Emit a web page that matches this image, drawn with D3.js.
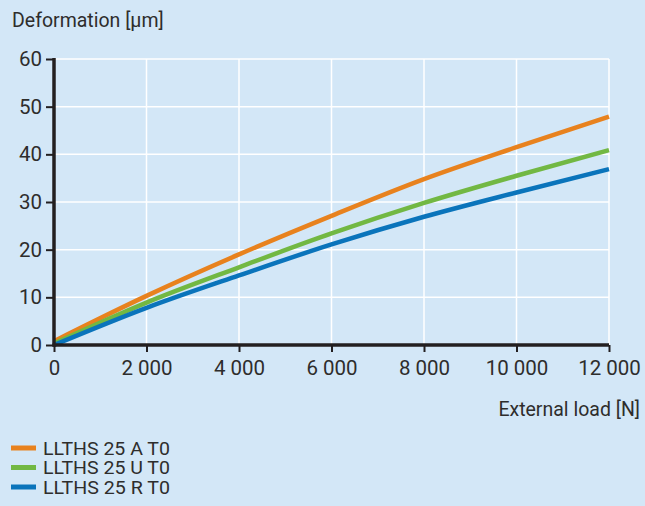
<!DOCTYPE html>
<html><head><meta charset="utf-8">
<script src="https://cdn.jsdelivr.net/npm/d3@7"></script>
<style>
html,body{margin:0;padding:0;background:#d3e7f7;}
svg{display:block;}
text{font-family:"Liberation Sans Narrow","Roboto","DejaVu Sans Condensed",sans-serif;fill:#2e2d2c;}
</style></head>
<body>
<svg id="c" width="645" height="506"></svg>
<script>
const loads = [0, 2000, 4000, 6000, 8000, 10000, 12000];
const seriesNames = ["LLTHS 25 A T0", "LLTHS 25 U T0", "LLTHS 25 R T0"];
const seriesA = [0.8, 10.3, 19.0, 27.1, 34.8, 41.5, 47.9];
const seriesU = [0.3, 8.9, 16.3, 23.4, 29.8, 35.5, 40.9];
const seriesR = [0.0, 7.8, 14.6, 21.1, 26.9, 32.0, 36.9];
const colors = ["#e8821e", "#72b843", "#0a74bb"];
const xTicks = [0, 2000, 4000, 6000, 8000, 10000, 12000];
const yTicks = [0, 10, 20, 30, 40, 50, 60];

const svg = d3.select("#c");
const W = 645, H = 506;
svg.append("rect").attr("width", W).attr("height", H).attr("fill", "#d3e7f7");

const x = d3.scaleLinear().domain([0, 12000]).range([54, 609]);
const y = d3.scaleLinear().domain([0, 60]).range([345, 59]);
const fmt = d3.formatLocale({decimal: ".", thousands: " ", grouping: [3], currency: ["", ""]}).format(",d");

// grid
const g = svg.append("g");
g.selectAll(".vg").data(xTicks.filter(d => d > 0)).join("line")
  .attr("x1", d => x(d)).attr("x2", d => x(d)).attr("y1", y(60)).attr("y2", y(0))
  .attr("stroke", "#fff").attr("stroke-width", 1.5);
g.selectAll(".hg").data(yTicks.filter(d => d > 0)).join("line")
  .attr("x1", x(0)).attr("x2", x(12000)).attr("y1", d => y(d)).attr("y2", d => y(d))
  .attr("stroke", "#fff").attr("stroke-width", 1.5);

// lines
const line = d3.line().x((d, i) => x(loads[i])).y(d => y(d)).curve(d3.curveMonotoneX);
[seriesA, seriesU, seriesR].forEach((s, i) => {
  svg.append("path").datum(s).attr("d", line).attr("fill", "none")
    .attr("stroke", colors[i]).attr("stroke-width", 4.5).attr("stroke-linecap", "butt");
});

// axes
const axisColor = "#231f20";
const yAxis = svg.append("g").attr("transform", `translate(${x(0)},0)`)
  .call(d3.axisLeft(y).tickValues(yTicks).tickSize(8).tickPadding(4).tickFormat(d3.format("d")));
const xAxis = svg.append("g").attr("transform", `translate(0,${y(0)})`)
  .call(d3.axisBottom(x).tickValues(xTicks).tickSize(7).tickPadding(8).tickFormat(fmt));
[yAxis, xAxis].forEach(a => {
  a.select(".domain").remove();
  a.selectAll(".tick line").attr("stroke", axisColor).attr("stroke-width", 2);
  a.selectAll(".tick text").attr("fill", "#2e2d2c").style("font-size", "20.5px")
    .style("font-family", '"Liberation Sans Narrow","Roboto",sans-serif');
});
svg.append("line").attr("x1", x(0)).attr("x2", x(0)).attr("y1", y(60) - 1).attr("y2", y(0) + 1.5)
  .attr("stroke", axisColor).attr("stroke-width", 3.5);
svg.append("line").attr("x1", x(0) - 1.5).attr("x2", x(12000)).attr("y1", y(0)).attr("y2", y(0))
  .attr("stroke", axisColor).attr("stroke-width", 3.5);

// titles
svg.append("text").attr("x", 12).attr("y", 27).style("font-size", "19.5px").text("Deformation [µm]");
svg.append("text").attr("x", 640).attr("y", 416).attr("text-anchor", "end").style("font-size", "19.5px").text("External load [N]");

// legend
const lg = svg.append("g");
seriesNames.forEach((n, i) => {
  const cy = 448 + i * 19.5;
  lg.append("line").attr("x1", 11).attr("x2", 36).attr("y1", cy).attr("y2", cy)
    .attr("stroke", colors[i]).attr("stroke-width", 5);
  lg.append("text").attr("x", 43).attr("y", cy + 7).style("font-size", "16.5px")
    .attr("textLength", 127).attr("lengthAdjust", "spacingAndGlyphs")
    .attr("transform", `translate(0,${cy + 7}) scale(1,1.15) translate(0,${-(cy + 7)})`)
    .text(n);
});
</script>
</body></html>
